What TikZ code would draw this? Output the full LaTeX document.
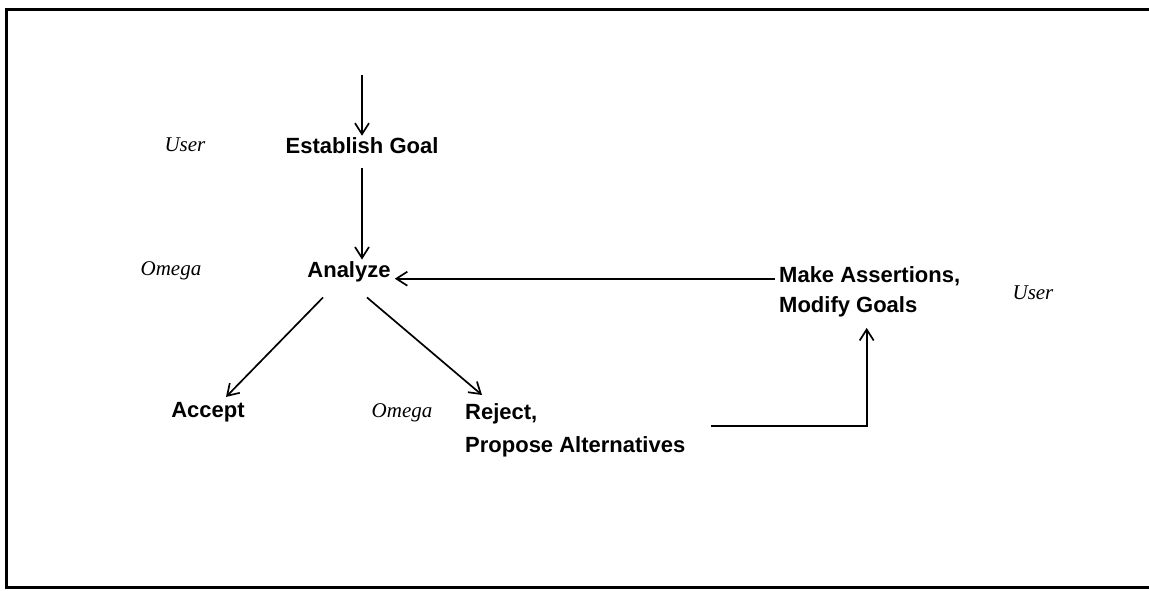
\documentclass[tikz,border=0pt]{standalone}
\usepackage{fontspec}
\setmainfont{Liberation Serif}
\setsansfont{Liberation Sans}
\usetikzlibrary{arrows.meta}
\tikzset{
  stage/.style={font=\sffamily\bfseries\fontsize{22}{30}\selectfont, inner sep=2pt},
  actor/.style={font=\itshape\fontsize{21}{25}\selectfont, inner sep=2pt},
  flow/.style={-{Straight Barb[length=11pt,width=14pt]}, line width=1.7pt}
}
\begin{document}
\begin{tikzpicture}[x=1pt,y=-1pt]
\useasboundingbox (0,0) rectangle (1149,590);
\draw [line width=3pt] (1149,9) -- (6,9) -- (6,587) -- (1149,587);

\node (goal) [stage] at (362,146) {Establish Goal};
\node (analyze) [stage] at (349,272) {Analyze};
\node (accept) [stage] at (208,412) {Accept};
\node (reject) [stage,align=left,anchor=north west] at (463,401) {Reject,\\[3pt]Propose Alternatives};
\node (assert) [stage,align=left,anchor=north west] at (777,264) {Make Assertions,\\Modify Goals};

\node (user1) [actor] at (185,145) {User};
\node (omega1) [actor] at (171,271) {Omega};
\node (omega2) [actor] at (402,413) {Omega};
\node (user2) [actor] at (1033,293) {User};

\coordinate (entry) at (362,75);
\draw [flow] (entry) -- (goal);
\draw [flow,shorten <=12pt] (goal) -- (goal |- analyze.north);
\draw [flow] ([xshift=-26pt,yshift=-13pt]analyze.south) -- ([xshift=18pt,yshift=3pt]accept.north);
\draw [flow] ([xshift=18pt,yshift=-13pt]analyze.south) -- ([xshift=19pt,yshift=6pt]reject.north west);
\draw [flow] ([xshift=-2pt,yshift=-1pt]assert.west |- analyze.base east) -- ([xshift=2pt,yshift=-1pt]analyze.base east);
\draw [flow] ([xshift=24pt,yshift=4pt]reject.east) -| ([xshift=-3pt,yshift=-9pt]assert.south);
\end{tikzpicture}
\end{document}
